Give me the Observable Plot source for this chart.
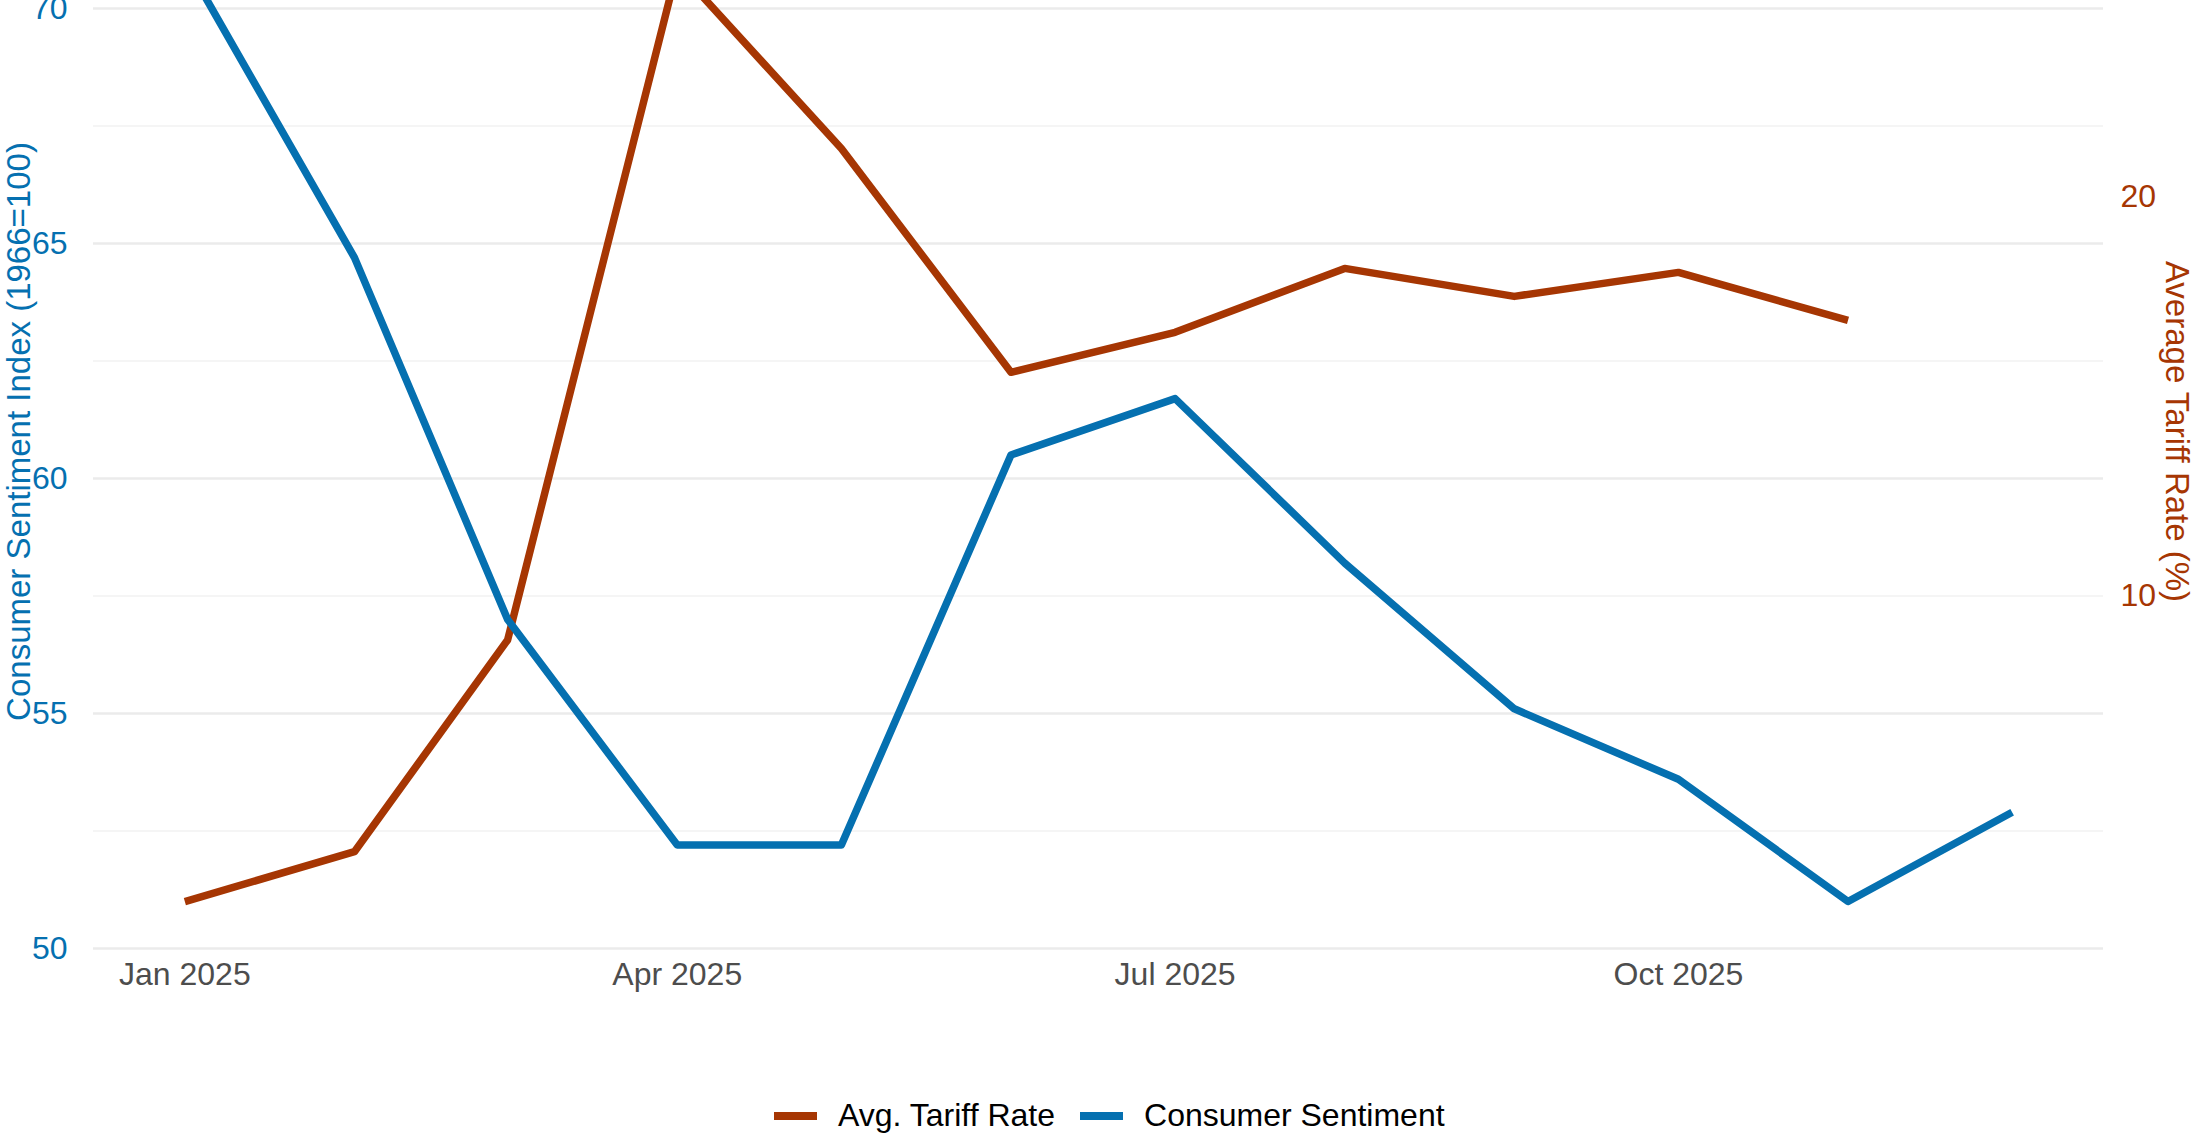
<!DOCTYPE html>
<html>
<head>
<meta charset="utf-8">
<script src="https://cdn.jsdelivr.net/npm/d3@7"></script>
<script src="https://cdn.jsdelivr.net/npm/@observablehq/plot@0.6"></script>
<style>
  html, body { margin: 0; padding: 0; background: #fff; }
  #wrap { position: relative; width: 2196px; height: 1135px; overflow: hidden; font-family: "Liberation Sans", Arial, sans-serif; }
  #chart { position: absolute; left: 0; top: -86px; }
  #legend { position: absolute; left: 774px; top: 1097px; display: flex; align-items: center; font-size: 32px; color: #000; white-space: nowrap; }
  .sw { width: 43px; height: 8px; display: inline-block; }
  .lab { margin-left: 21px; margin-right: 25px; }
</style>
</head>
<body>
<div id="wrap">
  <div id="chart"></div>
  <div id="legend"></div>
</div>
<script>
// ---- data ----
const months = ["2025-01","2025-02","2025-03","2025-04","2025-05","2025-06","2025-07","2025-08","2025-09","2025-10","2025-11","2025-12"];
const sentimentValues = [71.0, 64.7, 57.0, 52.2, 52.2, 60.5, 61.7, 58.2, 55.1, 53.6, 51.0, 52.9];
const tariffMonths = ["2025-01","2025-02","2025-03","2025-04","2025-05","2025-06","2025-07","2025-08","2025-09","2025-10","2025-11"];
const tariffValues = [2.35, 3.6, 8.9, 25.7, 21.2, 15.6, 16.6, 18.2, 17.5, 18.1, 16.9];
const leftTicks = [50, 55, 60, 65, 70];
const leftMinor = [52.5, 57.5, 62.5, 67.5];
const rightTicks = [10, 20];
const xTickMonths = ["2025-01","2025-04","2025-07","2025-10"];
const seriesNames = ["Avg. Tariff Rate", "Consumer Sentiment"];
// secondary-axis transform (tariff -> sentiment scale)
const secA = 0.85, secB = 49;

const blue = "#0570b0", orange = "#a63603";
const parse = d3.utcParse("%Y-%m");
const sentiment = months.map((m, i) => ({date: parse(m), value: sentimentValues[i]}));
const tariff = tariffMonths.map((m, i) => ({date: parse(m), value: tariffValues[i]}));

const [d0, d1] = d3.extent(sentiment, d => d.date);
const pad = (d1 - d0) * 0.05;

const font = "Liberation Sans, Arial, sans-serif";
const chart = Plot.plot({
  width: 2196,
  height: 1095,
  marginLeft: 93,
  marginRight: 93,
  marginTop: 0,
  marginBottom: 61,
  style: {fontFamily: font, fontSize: "32px", background: "#fff"},
  x: {type: "utc", domain: [new Date(+d0 - pad), new Date(+d1 + pad)]},
  y: {domain: [50, 72]},
  marks: [
    Plot.ruleY(leftMinor, {stroke: "#ebebeb", strokeWidth: 1.2}),
    Plot.ruleY(leftTicks, {stroke: "#ebebeb", strokeWidth: 2.3}),
    Plot.axisX({ticks: xTickMonths.map(parse), tickFormat: d3.utcFormat("%b %Y"), tickSize: 0, tickPadding: 14, fill: "#4d4d4d", fontSize: 32, label: null}),
    Plot.axisY({anchor: "left", ticks: leftTicks, tickSize: 0, tickPadding: 26, fill: blue, fontSize: 32, label: null}),
    Plot.axisY({anchor: "right", ticks: rightTicks.map(t => secB + secA * t), tickFormat: d => String(Math.round((d - secB) / secA)), tickSize: 0, tickPadding: 17, fill: orange, fontSize: 32, label: null}),
    Plot.text(["Consumer Sentiment Index (1966=100)"], {frameAnchor: "left", rotate: -90, dx: -74, fill: blue, fontSize: 33, textAnchor: "middle", lineAnchor: "middle"}),
    Plot.text(["Average Tariff Rate (%)"], {frameAnchor: "right", rotate: 90, dx: 73, fill: orange, fontSize: 33, textAnchor: "middle", lineAnchor: "middle"}),
    Plot.lineY(tariff, {x: "date", y: d => secB + secA * d.value, stroke: orange, strokeWidth: 7.5, strokeLinejoin: "round", strokeLinecap: "butt"}),
    Plot.lineY(sentiment, {x: "date", y: "value", stroke: blue, strokeWidth: 7.5, strokeLinejoin: "round", strokeLinecap: "butt"})
  ]
});
document.getElementById("chart").appendChild(chart);

const legend = document.getElementById("legend");
[[seriesNames[0], orange], [seriesNames[1], blue]].forEach(([name, c]) => {
  const s = document.createElement("span"); s.className = "sw"; s.style.background = c;
  const t = document.createElement("span"); t.className = "lab"; t.textContent = name;
  legend.appendChild(s); legend.appendChild(t);
});
</script>
</body>
</html>
